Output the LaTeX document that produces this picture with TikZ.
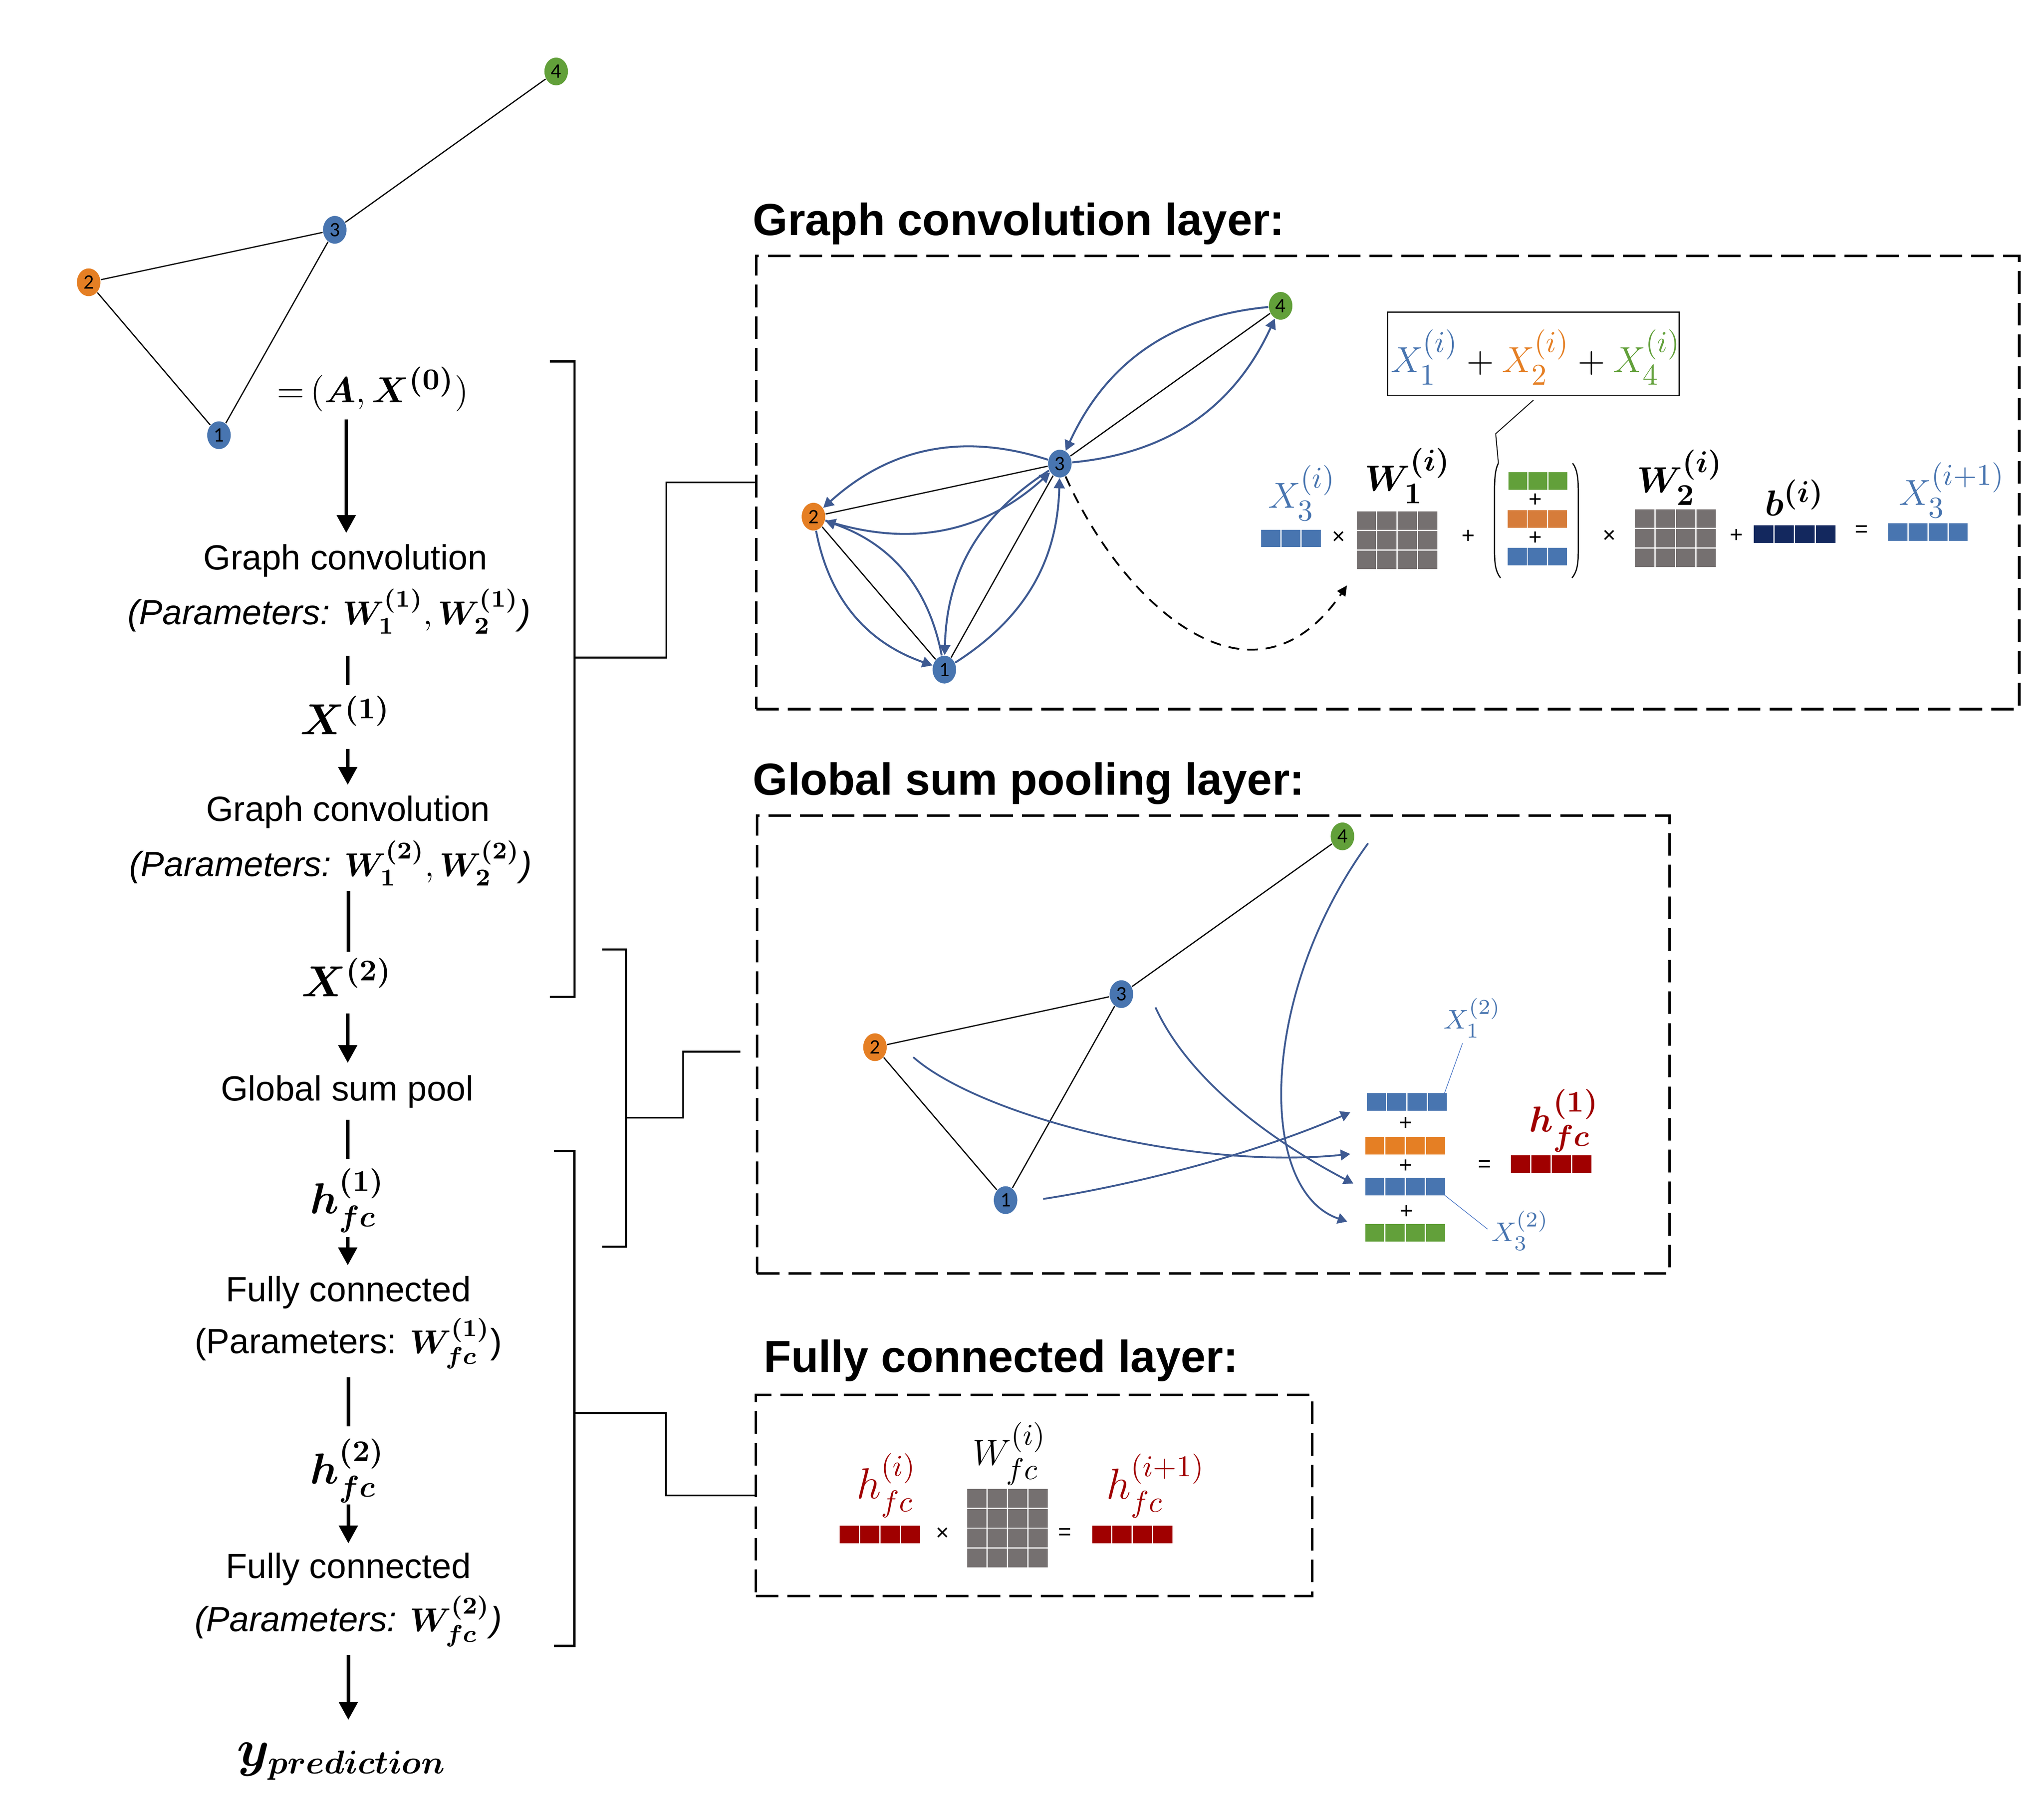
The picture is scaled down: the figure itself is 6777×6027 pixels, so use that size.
\documentclass[tikz,border=0pt]{standalone}
\usepackage{fontspec}
\setmainfont{Liberation Sans}
\newfontfamily\numfont{Carlito}
\usepackage{amsmath,bm}
\renewcommand\defaultscriptratio{.75}
\renewcommand\defaultscriptscriptratio{.6}
\usetikzlibrary{arrows.meta,shapes.geometric,calc}
\definecolor{nblue}{RGB}{72,117,176}
\definecolor{norange}{RGB}{229,127,36}
\definecolor{dorange}{RGB}{214,124,58}
\definecolor{ngreen}{RGB}{98,160,58}
\definecolor{arrblue}{RGB}{62,90,146}
\definecolor{navy}{RGB}{19,40,94}
\definecolor{nred}{RGB}{160,0,0}
\definecolor{ngray}{RGB}{117,112,112}
\definecolor{lblue}{RGB}{68,114,196}
\newcommand{\cellgrid}[7]{%
  \foreach \gi in {1,...,#3}{\foreach \gj in {1,...,#4}{
    \fill[#7] ({#1+(\gi-1)*#5+2},{#2+(\gj-1)*#6+2}) rectangle ({#1+\gi*#5-2},{#2+\gj*#6-2});
  }}}
\newcommand{\pmath}[1]{{\fontsize{11pt}{12pt}\selectfont$#1$}}
\begin{document}
\begin{tikzpicture}[x=0.1pt,y=-0.1pt,
  gnode/.style={ellipse, fill=#1, minimum width=7.8pt, minimum height=9.2pt, inner sep=0pt, font=\numfont\fontsize{6.8pt}{7pt}\selectfont},
  edge/.style={line width=0.4pt, black},
  barrow/.style={line width=0.65pt, draw=arrblue, -{Triangle[length=3.4pt,width=3.6pt]}},
  parrow/.style={line width=0.6pt, draw=arrblue, -{Triangle[length=3.2pt,width=3.5pt]}},
  colt/.style={font=\fontsize{11.6pt}{13pt}\selectfont, inner sep=0pt},
  colm/.style={font=\fontsize{13.5pt}{15pt}\selectfont, inner sep=0pt},
  bigarrow/.style={line width=1.2pt, -{Triangle[length=5.9pt,width=6.1pt]}},
  bigline/.style={line width=1.2pt},
  brk/.style={line width=0.75pt},
  conn/.style={line width=0.6pt},
  dbox/.style={draw, line width=0.85pt, dash pattern=on 7.5pt off 3pt, inner sep=0pt},
  title/.style={font=\bfseries\fontsize{14.9pt}{16pt}\selectfont, inner sep=0pt, anchor=base west},
  op/.style={font=\fontsize{7.5pt}{8pt}\selectfont, inner sep=0pt},
  mlab/.style={font=\fontsize{13pt}{14pt}\selectfont, inner sep=0pt}
]
\useasboundingbox (0,0) rectangle (6777,6027);

% ---------- top-left graph ----------
\node[gnode=nblue] (t1) at (726,1443) {1};
\node[gnode=norange] (t2) at (294,936) {2};
\node[gnode=nblue] (t3) at (1110,762) {3};
\node[gnode=ngreen] (t4) at (1844,237) {4};
\draw[edge] (t2) -- (t3);
\draw[edge] (t3) -- (t4);
\draw[edge] (t2) -- (t1);
\draw[edge] (t1) -- (t3);

% ---------- left column ----------
\node[font=\fontsize{12.8pt}{14pt}\selectfont, inner sep=0pt] (eq0) at (1236,1290) {${=}\,(\bm{A},\bm{X}^{\bm{(0)}})$};
\coordinate (a1s) at (1148,1391); \coordinate (a1e) at (1148,1767);
\draw[bigarrow] (a1s) -- (a1e);
\node[colt] (gc1) at (1145,1859) {Graph convolution};
\node[colt] (pa1) at (1091,2027) {\textit{(Parameters: }\pmath{\bm{W_1^{(1)}},\bm{W_2^{(1)}}}\textit{)}};
\coordinate (l1s) at (1153,2174); \coordinate (l1e) at (1153,2272);
\draw[bigline] (l1s) -- (l1e);
\node[colm] (x1) at (1145,2371) {$\bm{X^{(1)}}$};
\coordinate (a2s) at (1153,2483); \coordinate (a2e) at (1153,2602);
\draw[bigarrow] (a2s) -- (a2e);
\node[colt] (gc2) at (1154,2693) {Graph convolution};
\node[colt] (pa2) at (1096,2862) {\textit{(Parameters: }\pmath{\bm{W_1^{(2)}},\bm{W_2^{(2)}}}\textit{)}};
\coordinate (l2s) at (1155,2953); \coordinate (l2e) at (1155,3156);
\draw[bigline] (l2s) -- (l2e);
\node[colm] (x2) at (1150,3240) {$\bm{X^{(2)}}$};
\coordinate (a3s) at (1153,3360); \coordinate (a3e) at (1153,3524);
\draw[bigarrow] (a3s) -- (a3e);
\node[colt] (gsp) at (1151,3619) {Global sum pool};
\coordinate (l3s) at (1153,3713); \coordinate (l3e) at (1153,3842);
\draw[bigline] (l3s) -- (l3e);
\node[colm] (h1) at (1152,3980) {$\bm{h_{fc}^{(1)}}$};
\coordinate (a4s) at (1153,4101); \coordinate (a4e) at (1153,4195);
\draw[bigarrow] (a4s) -- (a4e);
\node[colt] (fc1) at (1155,4285) {Fully connected};
\node[colt] (pf1) at (1155,4454) {(Parameters: \pmath{\bm{W_{fc}^{(1)}}})};
\coordinate (l4s) at (1155,4566); \coordinate (l4e) at (1155,4729);
\draw[bigline] (l4s) -- (l4e);
\node[colm] (h2) at (1152,4876) {$\bm{h_{fc}^{(2)}}$};
\coordinate (a5s) at (1155,4988); \coordinate (a5e) at (1155,5117);
\draw[bigarrow] (a5s) -- (a5e);
\node[colt] (fc2) at (1155,5203) {Fully connected};
\node[colt] (pf2) at (1155,5375) {\textit{(Parameters: }\pmath{\bm{W_{fc}^{(2)}}}\textit{)}};
\coordinate (a6s) at (1155,5487); \coordinate (a6e) at (1155,5702);
\draw[bigarrow] (a6s) -- (a6e);
\node[font=\fontsize{16pt}{17pt}\selectfont, inner sep=0pt] (yp) at (1133,5840) {$\bm{y}_{\mbox{\fontsize{11pt}{12pt}\selectfont$\bm{prediction}$}}$};

% ---------- dashed boxes and titles ----------
\node[dbox, minimum width=418.8pt, minimum height=150.3pt] (gcbox) at (4601,1599.5) {};
\node[dbox, minimum width=302.5pt, minimum height=151.8pt] (poolbox) at (4022.5,3463) {};
\node[dbox, minimum width=184.5pt, minimum height=66.6pt] (fcbox) at (3428.5,4958) {};
\node[title] (tgc) at (2494,780) {Graph convolution layer:};
\node[title] (tpool) at (2494,2635) {Global sum pooling layer:};
\node[title] (tfc) at (2530,4549) {Fully connected layer:};

% ---------- brackets ----------
\draw[brk] (1823,1198) -- (1905,1198) -- (1905,3305) -- (1823,3305);
\coordinate (b1m) at (1905,2180);
\draw[conn] (b1m) -- (2209,2180) |- (gcbox.west);
\draw[brk] (1997,3148) -- (2076,3148) -- (2076,4133) -- (1997,4133);
\coordinate (b2m) at (2076,3706); \coordinate (b2e) at (2455,3487);
\draw[conn] (b2m) -- (2265,3706) |- (b2e);
\draw[brk] (1836,3816) -- (1904,3816) -- (1904,5457) -- (1836,5457);
\coordinate (b3m) at (1904,4685);
\draw[conn] (b3m) -- (2208,4685) |- (fcbox.west);

% ---------- graph convolution box ----------
\node[gnode=nblue] (g1) at (3131,2220) {1};
\node[gnode=norange] (g2) at (2697,1713) {2};
\node[gnode=nblue] (g3) at (3514,1537) {3};
\node[gnode=ngreen] (g4) at (4246,1014) {4};
\draw[edge] (g2) -- (g3);
\draw[edge] (g3) -- (g4);
\draw[edge] (g2) -- (g1);
\draw[edge] (g1) -- (g3);
\draw[barrow] (g3) to[bend right=30] (g2);
\draw[barrow] (g2) to[bend right=30] (g3);
\draw[barrow] (g2) to[bend right=30] (g1);
\draw[barrow] (g1) to[bend right=30] (g2);
\draw[barrow] (g3) to[bend right=28] (g1);
\draw[barrow] (g1) to[bend right=28] (g3);
\draw[barrow] (g4) to[bend right=30] (g3);
\draw[barrow] (g3) to[bend right=30] (g4);
\coordinate (dashend) at (4466,1941);
\draw[line width=0.6pt, dash pattern=on 3.6pt off 2.6pt, -{Triangle[length=3.4pt,width=3.2pt]}]
  (g3) .. controls (3720,2000) and (4150,2400) .. (dashend);

% equation
\cellgrid{4180}{1755}{3}{1}{67}{61}{nblue}
\node[op] (m1) at (4439,1782) {×};
\cellgrid{4497}{1693}{4}{3}{67.75}{65.3}{ngray}
\node[op] (p1) at (4868,1779) {+};
\cellgrid{4999}{1564}{3}{1}{66.7}{62}{ngreen}
\node[op] (pi1) at (5091,1658) {+};
\cellgrid{4997}{1690}{3}{1}{66.7}{62}{dorange}
\node[op] (pi2) at (5091,1785) {+};
\cellgrid{4997}{1814}{3}{1}{66.7}{62}{nblue}
\coordinate (parentop) at (4968,1536);
\draw[line width=0.4pt] (parentop) .. controls (4955,1560) and (4955,1600) .. (4955,1650) -- (4955,1800) .. controls (4955,1860) and (4955,1890) .. (4975,1916);
\draw[line width=0.4pt] (5214,1536) .. controls (5233,1560) and (5233,1600) .. (5233,1650) -- (5233,1800) .. controls (5233,1860) and (5233,1890) .. (5212,1916);
\node[op] (m2) at (5336,1779) {×};
\cellgrid{5420}{1687}{4}{3}{67.5}{65}{ngray}
\node[op] (p2) at (5757,1776) {+};
\cellgrid{5813}{1740}{4}{1}{68.5}{62}{navy}
\node[op] (e1) at (6172,1760) {=};
\cellgrid{6259}{1733}{4}{1}{66.75}{62}{nblue}
\node[mlab, text=nblue] (lx3) at (4317,1634) {$X_3^{(i)}$};
\node[mlab] (lw1) at (4668,1578) {$\bm{W_1^{(i)}}$};
\node[mlab] (lw2) at (5570,1583) {$\bm{W_2^{(i)}}$};
\node[mlab] (lb) at (5950,1650) {$\bm{b^{(i)}}$};
\node[mlab, text=nblue] (lx3n) at (6472,1625) {$X_3^{(i+1)}$};
\node[draw, line width=0.35pt, minimum width=96.6pt, minimum height=27.7pt, inner sep=0pt] (sumbox) at (5084,1173.5) {};
\node[mlab] (sumtxt) at (5092,1185) {${\color{nblue}X_1^{(i)}} + {\color{norange}X_2^{(i)}} + {\color{ngreen}X_4^{(i)}}$};
\draw[line width=0.3pt] ([yshift=-1.3pt]sumbox.south) -- (4959,1438) -- (parentop);

% ---------- pooling box ----------
\node[gnode=nblue] (q1) at (3334,3979) {1};
\node[gnode=norange] (q2) at (2901,3472) {2};
\node[gnode=nblue] (q3) at (3718,3296) {3};
\node[gnode=ngreen] (q4) at (4451,2773) {4};
\draw[edge] (q2) -- (q3);
\draw[edge] (q3) -- (q4);
\draw[edge] (q2) -- (q1);
\draw[edge] (q1) -- (q3);
\cellgrid{4530}{3623}{4}{1}{67.25}{62}{nblue}
\node[op] (qp1) at (4661,3725) {+};
\cellgrid{4525}{3768}{4}{1}{67}{62}{norange}
\node[op] (qp2) at (4661,3866) {+};
\cellgrid{4525}{3903}{4}{1}{67}{62}{nblue}
\node[op] (qp3) at (4663,4018) {+};
\cellgrid{4525}{4056}{4}{1}{67}{62}{ngreen}
\node[op] (qe) at (4922,3866) {=};
\cellgrid{5007}{3829}{4}{1}{67.75}{62}{nred}
\node[mlab, text=nred] (hp) at (5186,3715) {$\bm{h_{fc}^{(1)}}$};
\node[font=\fontsize{9.2pt}{10pt}\selectfont, inner sep=0pt, text=nblue] (qx1) at (4882,3375) {$X_1^{(2)}$};
\node[font=\fontsize{9.2pt}{10pt}\selectfont, inner sep=0pt, text=nblue] (qx3) at (5040,4080) {$X_3^{(2)}$};
\coordinate (qx1a) at (4849,3459); \coordinate (qx1b) at (4789,3625);
\draw[lblue, line width=0.2pt] (qx1a) -- (qx1b);
\coordinate (qx3a) at (4789,3962); \coordinate (qx3b) at (4932,4075);
\draw[lblue, line width=0.2pt] (qx3a) -- (qx3b);
\coordinate (qa1s) at (3459,3975); \coordinate (qa1e) at (4477,3688);
\draw[parrow] (qa1s) .. controls (3750,3930) and (4150,3830) .. (qa1e);
\coordinate (qa2s) at (3028,3505); \coordinate (qa2e) at (4477,3826);
\draw[parrow] (qa2s) .. controls (3250,3700) and (3950,3880) .. (qa2e);
\coordinate (qa3s) at (3831,3340); \coordinate (qa3e) at (4487,3924);
\draw[parrow] (qa3s) .. controls (3950,3600) and (4250,3800) .. (qa3e);
\coordinate (qa4s) at (4536,2796); \coordinate (qa4e) at (4467,4050);
\draw[parrow] (qa4s) .. controls (4170,3300) and (4170,3950) .. (qa4e);

% ---------- fully connected box ----------
\cellgrid{2782}{5057}{4}{1}{67.75}{62}{nred}
\node[op] (fm) at (3125,5086) {×};
\cellgrid{3205}{4934}{4}{4}{67.75}{66.25}{ngray}
\node[op] (fe) at (3530,5086) {=};
\cellgrid{3619}{5057}{4}{1}{67.5}{62}{nred}
\node[mlab, text=nred, font=\fontsize{13.5pt}{14pt}\selectfont] (fh) at (2939,4925) {$h_{fc}^{(i)}$};
\node[mlab] (fw) at (3348,4820) {$W_{fc}^{(i)}$};
\node[mlab, text=nred, font=\fontsize{13.5pt}{14pt}\selectfont] (fh2) at (3832,4926) {$h_{fc}^{(i+1)}$};
\end{tikzpicture}
\end{document}
